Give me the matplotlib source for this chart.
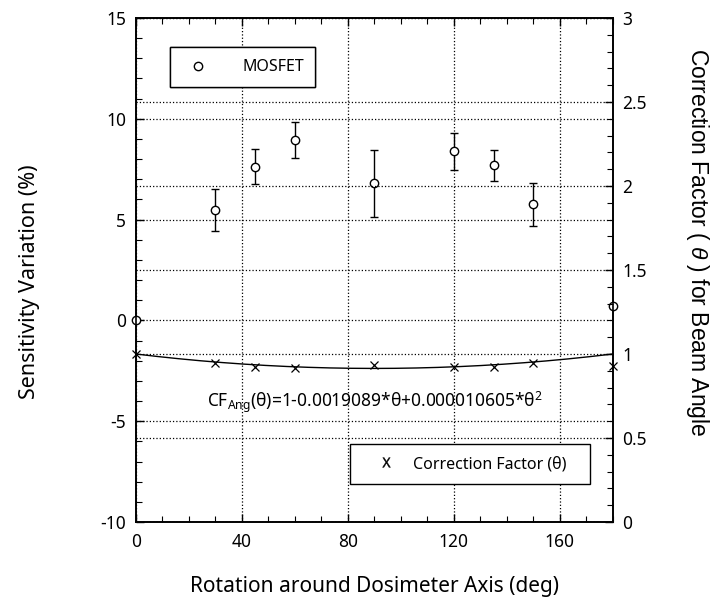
import numpy as np
import matplotlib
matplotlib.use("Agg")
import matplotlib.pyplot as plt
from matplotlib.lines import Line2D
from matplotlib.ticker import MultipleLocator

angles = [0, 30, 45, 60, 90, 120, 135, 150, 180]
sensitivity = [0.0, 5.47, 7.62, 8.94, 6.80, 8.38, 7.69, 5.75, 0.71]
sens_err = [0.0, 1.03, 0.87, 0.90, 1.65, 0.90, 0.76, 1.06, 0.0]
cf_values = [1.0, 0.945, 0.925, 0.915, 0.935, 0.925, 0.925, 0.945, 0.929]
fit_coeffs = [1.0, -0.0019089, 0.000010605]

plt.rcParams['font.family'] = ['Noto Sans', 'DejaVu Sans']
plt.rcParams['axes.unicode_minus'] = False
plt.rcParams['mathtext.fontset'] = 'custom'
plt.rcParams['mathtext.rm'] = 'Noto Sans'
plt.rcParams['mathtext.it'] = 'Liberation Sans:italic'

fig = plt.figure(figsize=(7.15, 6.16), dpi=100)
ax = fig.add_axes([0.190, 0.1526, 0.667, 0.8182])
ax2 = ax.twinx()

# MOSFET data with error bars
ax.errorbar(angles, sensitivity, yerr=sens_err, fmt='o', mfc='white', mec='black',
            ms=6, mew=1.0, ecolor='black', elinewidth=1.0, capsize=3, capthick=1.0,
            zorder=5, clip_on=False)

# Correction factor
theta = np.linspace(0, 180, 200)
fit = fit_coeffs[0] + fit_coeffs[1] * theta + fit_coeffs[2] * theta ** 2
ax2.plot(theta, fit, color='black', lw=1.0)
ax2.plot(angles, cf_values, linestyle='none', marker='x', color='black', ms=6, mew=0.9,
         clip_on=False)

ax.set_xlim(0, 180)
ax.set_ylim(-10, 15)
ax2.set_ylim(0, 3)

ax.xaxis.set_major_locator(MultipleLocator(40))
ax.xaxis.set_minor_locator(MultipleLocator(10))
ax.yaxis.set_major_locator(MultipleLocator(5))
ax.yaxis.set_minor_locator(MultipleLocator(1))
ax2.yaxis.set_minor_locator(MultipleLocator(0.1))
ax2.set_yticks([0, 0.5, 1, 1.5, 2, 2.5, 3])
ax2.set_yticklabels(['0', '0.5', '1', '1.5', '2', '2.5', '3'])

for a in (ax, ax2):
    a.tick_params(which='both', direction='in', labelsize=12.5)
    a.tick_params(which='major', length=6, width=1)
    a.tick_params(which='minor', length=4, width=0.8)
    for s in a.spines.values():
        s.set_linewidth(1.2)
ax.tick_params(which='both', top=True, right=False)
ax.tick_params(axis='x', pad=8)
ax.tick_params(axis='y', pad=7)
ax2.tick_params(axis='y', pad=7)

ax.grid(True, which='major', linestyle=':', color='black', lw=0.9)
ax2.grid(True, which='major', axis='y', linestyle=':', color='black', lw=0.9)

ax.set_xlabel('Rotation around Dosimeter Axis (deg)', fontsize=15, labelpad=18)
ax.set_ylabel('Sensitivity Variation (%)', fontsize=15.5)
ax.yaxis.set_label_coords(-0.2, 0.476)
ax2.set_ylabel('Correction Factor ( $\\mathit{\\theta}$ ) for Beam Angle', fontsize=16.5,
               rotation=270, family='Liberation Sans')
ax2.yaxis.set_label_coords(1.205, 0.556)

ax2.text(26.8, 0.68, 'CF$_{\\mathregular{Ang}}$(θ)=1-0.0019089*θ+0.000010605*θ$^{\\mathregular{2}}$',
         fontsize=12.5, ha='left', va='baseline')

h1 = Line2D([], [], linestyle='none', marker='o', mfc='white', mec='black', ms=6)
leg1 = ax.legend([h1], ['MOSFET'], loc='upper left', mode='expand',
                 bbox_to_anchor=(0.0545, 0.0, 0.3375, 0.958), fancybox=False,
                 edgecolor='black', framealpha=1, fontsize=11.5, borderpad=0.75,
                 handletextpad=1.8)
leg1.get_frame().set_linewidth(1.0)
ax.add_artist(leg1)

h2 = Line2D([], [], linestyle='none', marker='$\\mathregular{X}$', color='black', ms=7, mew=0.3)
leg2 = ax2.legend([h2], ['Correction Factor (θ)'], loc='lower left', mode='expand',
                  bbox_to_anchor=(0.449, 0.0754, 0.503, 0.5), fancybox=False,
                  edgecolor='black', framealpha=1, fontsize=11.5, borderpad=0.75,
                  handlelength=3.0, handletextpad=0.2, borderaxespad=0.0)
leg2.get_frame().set_linewidth(1.0)

fig.savefig('out.png', dpi=100)
